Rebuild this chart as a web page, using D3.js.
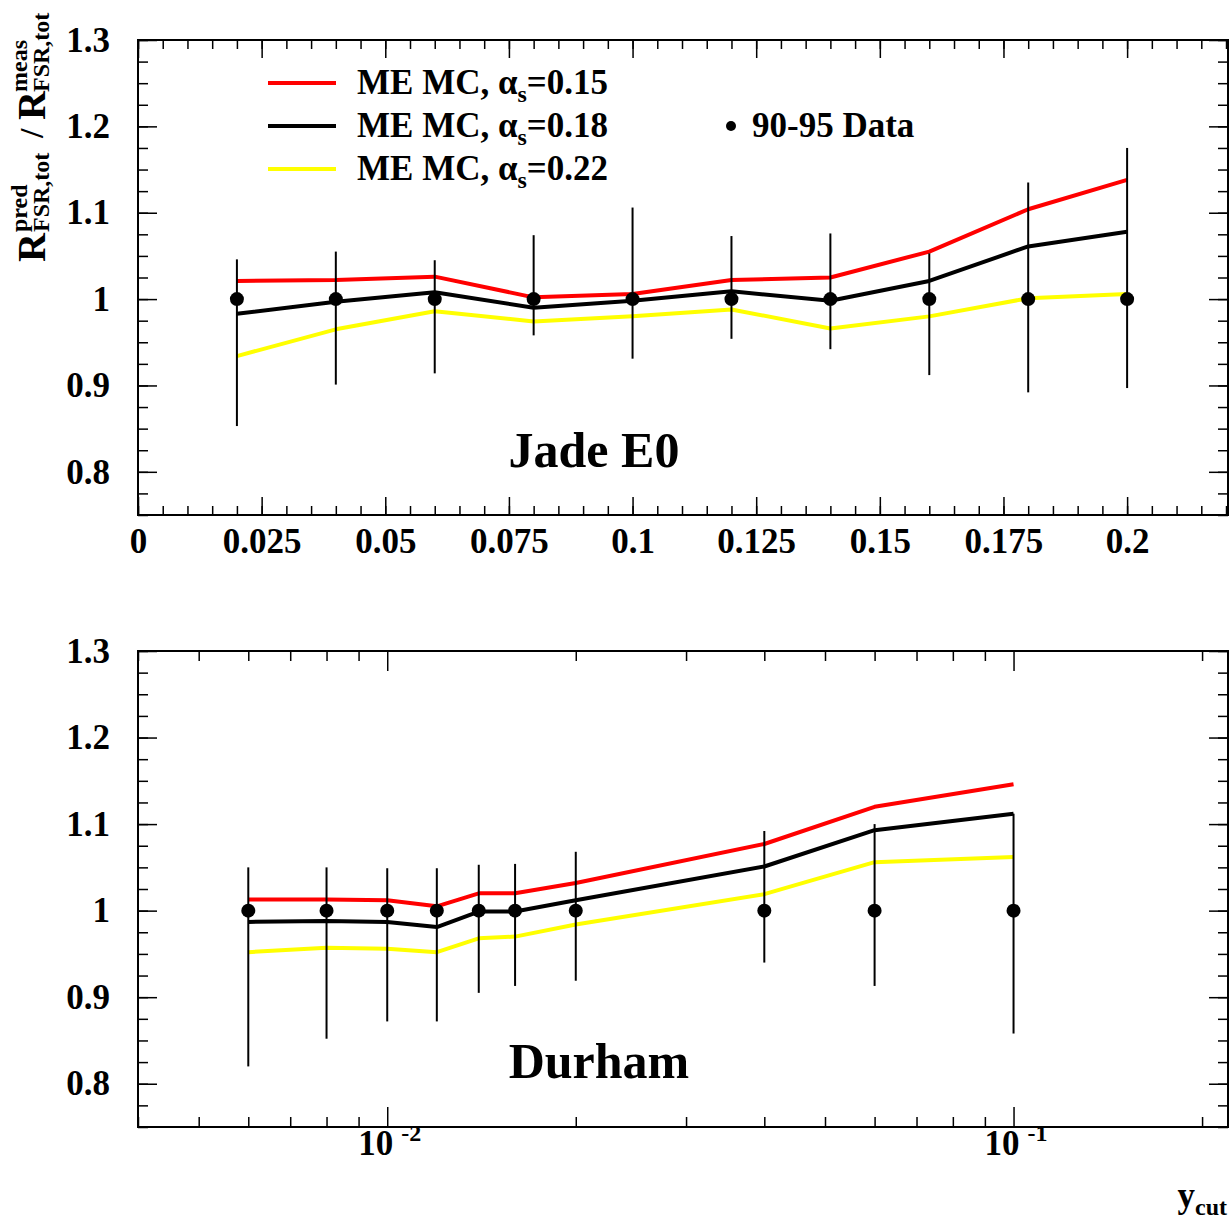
<!DOCTYPE html>
<html>
<head>
<meta charset="utf-8">
<title>R FSR ratio</title>
<script src="https://d3js.org/d3.v7.min.js"></script>
<style>
  body { margin: 0; background: #fff; }
  text { font-family: "Liberation Serif", "Times New Roman", serif; font-weight: bold; fill: #000; }
</style>
</head>
<body>
<script>
// ---- data ----
const jadeX = [0.02, 0.04, 0.06, 0.08, 0.10, 0.12, 0.14, 0.16, 0.18, 0.20];
const jadeA015 = [1.021, 1.022, 1.026, 1.002, 1.006, 1.022, 1.025, 1.055, 1.104, 1.138];
const jadeA018 = [0.983, 0.997, 1.008, 0.990, 0.998, 1.009, 0.998, 1.021, 1.061, 1.078];
const jadeA022 = [0.934, 0.965, 0.986, 0.974, 0.980, 0.988, 0.966, 0.980, 1.001, 1.006];
const jadeData = [1, 1, 1, 1, 1, 1, 1, 1, 1, 1];
const jadeErrHi = [1.046, 1.055, 1.045, 1.074, 1.106, 1.073, 1.076, 1.053, 1.135, 1.175];
const jadeErrLo = [0.853, 0.901, 0.914, 0.958, 0.931, 0.954, 0.942, 0.912, 0.892, 0.897];

const durX = [0.006, 0.008, 0.01, 0.012, 0.014, 0.016, 0.02, 0.04, 0.06, 0.1];
const durA015 = [1.013, 1.013, 1.012, 1.005, 1.020, 1.020, 1.032, 1.077, 1.120, 1.146];
const durA018 = [0.987, 0.988, 0.987, 0.981, 0.999, 0.999, 1.012, 1.051, 1.093, 1.112];
const durA022 = [0.952, 0.957, 0.956, 0.952, 0.968, 0.970, 0.984, 1.019, 1.056, 1.062];
const durData = [1, 1, 1, 1, 1, 1, 1, 1, 1, 1];
const durErrHi = [1.050, 1.050, 1.049, 1.049, 1.053, 1.054, 1.068, 1.092, 1.100, 1.112];
const durErrLo = [0.820, 0.852, 0.872, 0.872, 0.905, 0.913, 0.919, 0.940, 0.913, 0.858];

const yTicks = [0.8, 0.9, 1.0, 1.1, 1.2, 1.3];
const xTicksLin = [0, 0.025, 0.05, 0.075, 0.1, 0.125, 0.15, 0.175, 0.2];
const xTicksLog = [0.01, 0.1];
const legendLabels = ["0.15", "0.18", "0.22"];
const seriesColors = ["#ff0000", "#000000", "#ffff00"];

// ---- layout ----
const W = 1231, H = 1222;
const left = 138, right = 1228;
const fs = 35; // label font size

const svg = d3.select("body").append("svg")
  .attr("width", W).attr("height", H);

const fmt = d => String(+d.toFixed(3));

function yMinorTicks() {
  return d3.range(0, 23).map(i => +(0.75 + i * 0.025).toFixed(3));
}

function frame(y0, y1) {
  svg.append("rect")
    .attr("x", left).attr("y", y0)
    .attr("width", right - left).attr("height", y1 - y0)
    .attr("fill", "none").attr("stroke", "#000").attr("stroke-width", 2);
}

function styleAxis(g) {
  g.select(".domain").remove();
  g.selectAll("line").attr("stroke", "#000").attr("stroke-width", 1.5);
  g.selectAll("text").attr("font-size", fs).attr("fill", "#000")
    .style("font-family", "'Liberation Serif', serif").style("font-weight", "bold");
}

function yAxes(y) {
  svg.append("g").attr("transform", `translate(${left},0)`)
    .call(d3.axisLeft(y).tickValues(yMinorTicks()).tickSize(-10).tickFormat(""))
    .call(styleAxis);
  svg.append("g").attr("transform", `translate(${left},0)`)
    .call(d3.axisLeft(y).tickValues(yTicks).tickSizeInner(-19).tickSizeOuter(0).tickPadding(28).tickFormat(fmt))
    .call(styleAxis);
  svg.append("g").attr("transform", `translate(${right},0)`)
    .call(d3.axisRight(y).tickValues(yMinorTicks()).tickSize(-10).tickFormat(""))
    .call(styleAxis);
  svg.append("g").attr("transform", `translate(${right},0)`)
    .call(d3.axisRight(y).tickValues(yTicks).tickSize(-19).tickFormat(""))
    .call(styleAxis);
}

function drawSeries(x, y, xs, lists, data, lo, hi) {
  const line = d3.line().x((d, i) => x(xs[i])).y(d => y(d));
  lists.forEach((vals, k) => {
    svg.append("path").datum(vals)
      .attr("d", line)
      .attr("fill", "none")
      .attr("stroke", seriesColors[k])
      .attr("stroke-width", 4)
      .attr("stroke-linejoin", "round");
  });
  svg.append("g").selectAll("line").data(xs).join("line")
    .attr("x1", d => x(d)).attr("x2", d => x(d))
    .attr("y1", (d, i) => y(lo[i])).attr("y2", (d, i) => y(hi[i]))
    .attr("stroke", "#000").attr("stroke-width", 2);
  svg.append("g").selectAll("circle").data(xs).join("circle")
    .attr("cx", d => x(d)).attr("cy", (d, i) => y(data[i]))
    .attr("r", 7).attr("fill", "#000");
}

// ---- top panel: Jade E0 ----
const t0 = 40, t1 = 515;
const xLin = d3.scaleLinear().domain([0, 0.2204]).range([left, right]);
const yTop = d3.scaleLinear().domain([0.75, 1.3]).range([t1, t0]);

yAxes(yTop);
const linMinor = d3.range(0, 45).map(i => +(i * 0.005).toFixed(3)).filter(v => v <= 0.2204);
svg.append("g").attr("transform", `translate(0,${t1})`)
  .call(d3.axisBottom(xLin).tickValues(linMinor).tickSize(-9).tickFormat(""))
  .call(styleAxis);
svg.append("g").attr("transform", `translate(0,${t1})`)
  .call(d3.axisBottom(xLin).tickValues(xTicksLin).tickSizeInner(-18).tickSizeOuter(0).tickPadding(13).tickFormat(fmt))
  .call(styleAxis);
svg.append("g").attr("transform", `translate(0,${t0})`)
  .call(d3.axisTop(xLin).tickValues(linMinor).tickSize(-9).tickFormat(""))
  .call(styleAxis);
svg.append("g").attr("transform", `translate(0,${t0})`)
  .call(d3.axisTop(xLin).tickValues(xTicksLin).tickSize(-18).tickFormat(""))
  .call(styleAxis);

drawSeries(xLin, yTop, jadeX, [jadeA015, jadeA018, jadeA022], jadeData, jadeErrLo, jadeErrHi);
frame(t0, t1);

svg.append("text").attr("x", 594).attr("y", 467).attr("text-anchor", "middle")
  .attr("font-size", 50).text("Jade E0");

// legend
legendLabels.forEach((lab, k) => {
  const ly = 83 + k * 43;
  svg.append("line").attr("x1", 268).attr("x2", 336).attr("y1", ly).attr("y2", ly)
    .attr("stroke", seriesColors[k]).attr("stroke-width", 4);
  const t = svg.append("text").attr("x", 357).attr("y", ly + 11).attr("font-size", fs);
  t.append("tspan").text("ME MC, \u03b1");
  t.append("tspan").attr("font-size", 24).attr("dy", 8).text("s");
  t.append("tspan").attr("dy", -8).text("=" + lab);
});
svg.append("circle").attr("cx", 731).attr("cy", 126).attr("r", 5).attr("fill", "#000");
svg.append("text").attr("x", 752).attr("y", 137).attr("font-size", fs).text("90-95 Data");

// y axis title (rotated)
const yt = svg.append("g").attr("transform", "translate(45,262) rotate(-90)");
yt.append("text").attr("x", 0).attr("y", 0).attr("font-size", 40).text("R");
yt.append("text").attr("x", 30).attr("y", -18).attr("font-size", 24).text("pred");
yt.append("text").attr("x", 30).attr("y", 4).attr("font-size", 24).text("FSR,tot");
yt.append("text").attr("x", 124).attr("y", -2).attr("font-size", 34).text("/");
yt.append("text").attr("x", 142).attr("y", 0).attr("font-size", 40).text("R");
yt.append("text").attr("x", 170).attr("y", -18).attr("font-size", 24).text("meas");
yt.append("text").attr("x", 170).attr("y", 4).attr("font-size", 24).text("FSR,tot");

// ---- bottom panel: Durham ----
const b0 = 651, b1 = 1127;
const xLog = d3.scaleLog().domain([0.004, 0.22]).range([left, right]);
const yBot = d3.scaleLinear().domain([0.75, 1.3]).range([b1, b0]);

yAxes(yBot);
const logMinor = [0.004, 0.005, 0.006, 0.007, 0.008, 0.009, 0.02, 0.03, 0.04, 0.05, 0.06, 0.07, 0.08, 0.09, 0.2];
svg.append("g").attr("transform", `translate(0,${b1})`)
  .call(d3.axisBottom(xLog).tickValues(logMinor).tickSize(-10).tickFormat(""))
  .call(styleAxis);
svg.append("g").attr("transform", `translate(0,${b1})`)
  .call(d3.axisBottom(xLog).tickValues(xTicksLog).tickSize(-20).tickFormat(""))
  .call(styleAxis);
svg.append("g").attr("transform", `translate(0,${b0})`)
  .call(d3.axisTop(xLog).tickValues(logMinor).tickSize(-10).tickFormat(""))
  .call(styleAxis);
svg.append("g").attr("transform", `translate(0,${b0})`)
  .call(d3.axisTop(xLog).tickValues(xTicksLog).tickSize(-20).tickFormat(""))
  .call(styleAxis);

xTicksLog.forEach(v => {
  const px = xLog(v);
  const e = Math.round(Math.log10(v));
  svg.append("text").attr("x", px + 6).attr("y", 1155).attr("text-anchor", "end")
    .attr("font-size", fs).text("10");
  svg.append("text").attr("x", px + 14).attr("y", 1141)
    .attr("font-size", 24).text(String(e));
});

drawSeries(xLog, yBot, durX, [durA015, durA018, durA022], durData, durErrLo, durErrHi);
frame(b0, b1);

svg.append("text").attr("x", 599).attr("y", 1078).attr("text-anchor", "middle")
  .attr("font-size", 50).text("Durham");

const xt = svg.append("text").attr("x", 1227).attr("y", 1207).attr("text-anchor", "end").attr("font-size", fs);
xt.append("tspan").text("y");
xt.append("tspan").attr("font-size", 24).attr("dy", 8).text("cut");
</script>
</body>
</html>
